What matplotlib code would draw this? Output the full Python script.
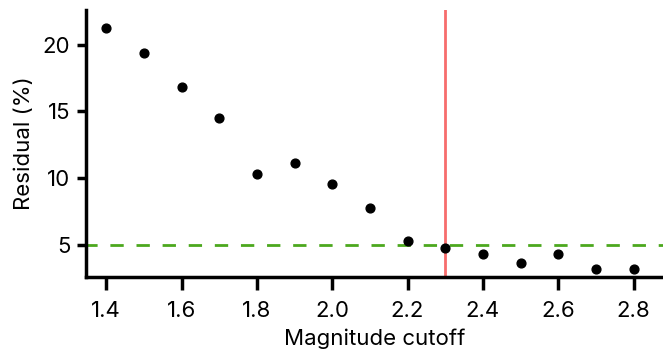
import numpy as np
import matplotlib.pyplot as plt

plt.rcParams['font.family'] = ['Inter', 'DejaVu Sans']

# Data
cutoff = np.array([1.4, 1.5, 1.6, 1.7, 1.8, 1.9, 2.0, 2.1, 2.2, 2.3, 2.4, 2.5, 2.6, 2.7, 2.8])
residual = np.array([21.27, 19.35, 16.84, 14.5, 10.28, 11.12, 9.55, 7.74, 5.25, 4.75,
                     4.28, 3.6, 4.28, 3.16, 3.16])
chosen_cutoff = 2.3
threshold = 5

fig = plt.figure(figsize=(6.63, 3.55), dpi=100)
ax = fig.add_axes([0.130, 0.2206, 0.870, 0.7514])

ax.axhline(threshold, color='#4ca81e', linestyle=(0.8, (4.8, 4.6)), linewidth=2, zorder=1)
ax.axvline(chosen_cutoff, color='#f76d6d', linewidth=2, zorder=2)
ax.scatter(cutoff, residual, s=40, color='black', zorder=3)

ax.set_xlim(1.347, 2.878)
ax.set_ylim(2.6, 22.6)
ax.set_xticks([1.4, 1.6, 1.8, 2.0, 2.2, 2.4, 2.6, 2.8])
ax.set_yticks([5, 10, 15, 20])

ax.set_xlabel('Magnitude cutoff', fontsize=16, labelpad=5.5)
ax.set_ylabel('Residual (%)', fontsize=16, labelpad=6)

for side in ['top', 'right']:
    ax.spines[side].set_visible(False)
for side in ['left', 'bottom']:
    ax.spines[side].set_linewidth(2.5)
ax.tick_params(axis='x', width=2.5, length=9.5, pad=8, labelsize=16)
ax.tick_params(axis='y', width=2.5, length=6.5, pad=5, labelsize=16)

fig.savefig('out.png', dpi=100)
